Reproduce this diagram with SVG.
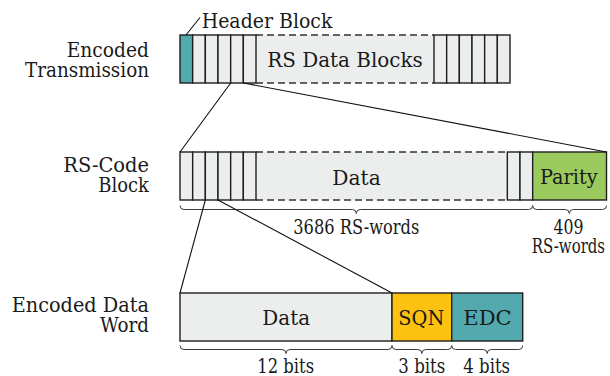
<svg xmlns="http://www.w3.org/2000/svg" width="610" height="376" viewBox="0 0 610 376">
  <style>
    text { font-family: "DejaVu Serif", "Liberation Serif", "Times New Roman", serif; font-size: 20px; fill: #1a1a1a; }
    .mid { text-anchor: middle; }
    .end { text-anchor: end; }
    .cell { fill: #eceeed; stroke: #1e1e1e; stroke-width: 1.4; }
    .grey { fill: #eceeed; stroke: none; }
    .dash { fill: none; stroke: #333; stroke-width: 1.3; stroke-dasharray: 7 4; }
    .teal { fill: #52a9ae; stroke: #1e1e1e; stroke-width: 1.4; }
    .green { fill: #9bcb5e; stroke: #1e1e1e; stroke-width: 1.4; }
    .yellow { fill: #fdc10f; stroke: #1e1e1e; stroke-width: 1.4; }
    .link { fill: none; stroke: #111; stroke-width: 1.1; }
    .brace { fill: none; stroke: #3a3a3a; stroke-width: 1; }
  </style>

  <!-- row labels -->
  <g id="row-labels">
    <text class="end" x="149" y="56.7" textLength="82.3" lengthAdjust="spacingAndGlyphs">Encoded</text>
    <text class="end" x="149" y="77.3" textLength="124" lengthAdjust="spacingAndGlyphs">Transmission</text>
    <text class="end" x="149" y="171.5" textLength="85.7" lengthAdjust="spacingAndGlyphs">RS-Code</text>
    <text class="end" x="149" y="191.7" textLength="50.7" lengthAdjust="spacingAndGlyphs">Block</text>
    <text class="end" x="149" y="311.7" textLength="137.3" lengthAdjust="spacingAndGlyphs">Encoded Data</text>
    <text class="end" x="149" y="331.7" textLength="49" lengthAdjust="spacingAndGlyphs">Word</text>
  </g>

  <!-- encoded transmission: header + RS data blocks -->
  <g id="transmission">
    <rect class="grey" x="256" y="35" width="178" height="48"/>
    <line class="dash" x1="256" y1="35" x2="434" y2="35"/>
    <line class="dash" x1="256" y1="83" x2="434" y2="83"/>
    <rect class="teal" x="180" y="35" width="12.67" height="48"/>
    <rect class="cell" x="192.67" y="35" width="12.67" height="48"/>
    <rect class="cell" x="205.33" y="35" width="12.67" height="48"/>
    <rect class="cell" x="218" y="35" width="12.67" height="48"/>
    <rect class="cell" x="230.67" y="35" width="12.67" height="48"/>
    <rect class="cell" x="243.33" y="35" width="12.67" height="48"/>
    <rect class="cell" x="434" y="35" width="12.67" height="48"/>
    <rect class="cell" x="446.67" y="35" width="12.67" height="48"/>
    <rect class="cell" x="459.33" y="35" width="12.67" height="48"/>
    <rect class="cell" x="472" y="35" width="12.67" height="48"/>
    <rect class="cell" x="484.67" y="35" width="12.67" height="48"/>
    <rect class="cell" x="497.33" y="35" width="12.67" height="48"/>
    <text class="mid" x="345" y="66.7" textLength="155.7" lengthAdjust="spacingAndGlyphs">RS Data Blocks</text>
  </g>

  <g id="header-label">
    <line class="link" x1="186" y1="35" x2="200" y2="17.5"/>
    <text x="201.7" y="28.3" textLength="130.7" lengthAdjust="spacingAndGlyphs">Header Block</text>
  </g>

  <!-- RS-code block: data words + parity -->
  <g id="rs-block">
    <rect class="grey" x="256" y="152" width="251.33" height="48"/>
    <line class="dash" x1="256" y1="152" x2="507.33" y2="152"/>
    <line class="dash" x1="256" y1="200" x2="507.33" y2="200"/>
    <rect class="cell" x="180" y="152" width="12.67" height="48"/>
    <rect class="cell" x="192.67" y="152" width="12.67" height="48"/>
    <rect class="cell" x="205.33" y="152" width="12.67" height="48"/>
    <rect class="cell" x="218" y="152" width="12.67" height="48"/>
    <rect class="cell" x="230.67" y="152" width="12.67" height="48"/>
    <rect class="cell" x="243.33" y="152" width="12.67" height="48"/>
    <rect class="cell" x="507.33" y="152" width="12.67" height="48"/>
    <rect class="cell" x="520" y="152" width="12.67" height="48"/>
    <rect class="green" x="532.67" y="152" width="73.83" height="48"/>
    <text class="mid" x="356.5" y="185" textLength="48.4" lengthAdjust="spacingAndGlyphs">Data</text>
    <text class="mid" x="568.8" y="184.3" textLength="57.7" lengthAdjust="spacingAndGlyphs">Parity</text>
  </g>

  <g id="rs-braces">
    <path class="brace" d="M180 205.5 q0 4 4 4 L352.3 209.5 q4 0 4 4 q0 -4 4 -4 L528.67 209.5 q4 0 4 -4"/>
    <path class="brace" d="M532.67 205.5 q0 4 4 4 L565.3 209.5 q4 0 4 4 q0 -4 4 -4 L602.5 209.5 q4 0 4 -4"/>
    <text class="mid" x="356.3" y="234.3" textLength="126" lengthAdjust="spacingAndGlyphs">3686 RS-words</text>
    <text class="mid" x="568.5" y="233.5" textLength="30" lengthAdjust="spacingAndGlyphs">409</text>
    <text class="mid" x="568.4" y="252.7" textLength="73.3" lengthAdjust="spacingAndGlyphs">RS-words</text>
  </g>

  <!-- encoded data word -->
  <g id="data-word">
    <rect class="cell" x="180" y="293" width="212" height="48"/>
    <rect class="yellow" x="392" y="293" width="59.7" height="48"/>
    <rect class="teal" x="451.7" y="293" width="71" height="48"/>
    <text class="mid" x="286.2" y="325" textLength="47.7" lengthAdjust="spacingAndGlyphs">Data</text>
    <text class="mid" x="421.3" y="325" textLength="46" lengthAdjust="spacingAndGlyphs">SQN</text>
    <text class="mid" x="487.5" y="325" textLength="48.4" lengthAdjust="spacingAndGlyphs">EDC</text>
  </g>

  <g id="word-braces">
    <path class="brace" d="M180 345.5 q0 4 4 4 L282 349.5 q4 0 4 4 q0 -4 4 -4 L388 349.5 q4 0 4 -4"/>
    <path class="brace" d="M392 345.5 q0 4 4 4 L417.85 349.5 q4 0 4 4 q0 -4 4 -4 L447.7 349.5 q4 0 4 -4"/>
    <path class="brace" d="M451.7 345.5 q0 4 4 4 L483.2 349.5 q4 0 4 4 q0 -4 4 -4 L518.7 349.5 q4 0 4 -4"/>
    <text class="mid" x="285.7" y="372.5" textLength="56.7" lengthAdjust="spacingAndGlyphs">12 bits</text>
    <text class="mid" x="421.8" y="372.5" textLength="47" lengthAdjust="spacingAndGlyphs">3 bits</text>
    <text class="mid" x="486.7" y="372.5" textLength="46.7" lengthAdjust="spacingAndGlyphs">4 bits</text>
  </g>

  <!-- zoom-in connectors -->
  <g id="connectors">
    <line class="link" x1="230.67" y1="83" x2="180" y2="152"/>
    <line class="link" x1="243.33" y1="83" x2="606.5" y2="152"/>
    <line class="link" x1="205.33" y1="200" x2="180" y2="293"/>
    <line class="link" x1="218" y1="200" x2="392" y2="293"/>
  </g>
</svg>
